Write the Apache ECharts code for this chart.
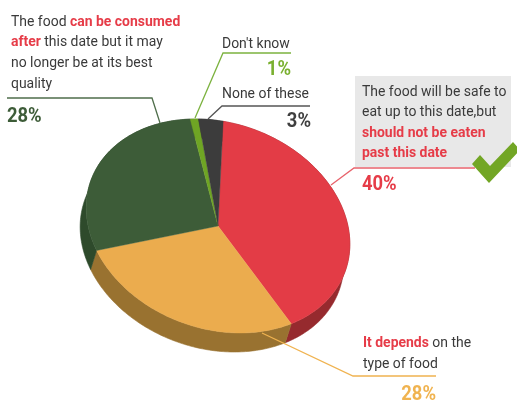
<!DOCTYPE html>
<html>
<head>
<meta charset="utf-8">
<style>html,body{margin:0;padding:0;background:#fff}#chart{width:517px;height:400px}</style>
<script src="https://cdn.jsdelivr.net/npm/echarts@6/dist/echarts.min.js"></script>
</head>
<body>
<div id="chart"></div>
<script>
// Survey shares, clockwise from the red slice
const categories = ['Safe up to this date', 'It depends', 'Can be consumed after', "Don't know", 'None of these'];
const values = [40, 28, 28, 1, 3];
const topColors = ['#e33c46', '#ebac4e', '#3d5c38', '#6fa524', '#3c3c3c'];
const sideColors = ['#962a2e', '#997230', '#2e4a2b', '#4f7a1a', '#2b2b2b'];

// Tilted-disc projection
const disc = { cx: 218, cy: 226, a: 135, b: 103, tilt: 19.4, start: -102.8, dx: -6, dy: 19 };
const total = values.reduce((s, v) => s + v, 0);
const rad = Math.PI / 180;

function rimPoint(deg, shifted) {
  const t = deg * rad, r = disc.tilt * rad;
  const p = disc.a * Math.cos(t), q = disc.b * Math.sin(t);
  return [
    disc.cx + p * Math.cos(r) - q * Math.sin(r) + (shifted ? disc.dx : 0),
    disc.cy + p * Math.sin(r) + q * Math.cos(r) + (shifted ? disc.dy : 0)
  ];
}
function sliceRange(index) {
  const before = values.slice(0, index).reduce((s, v) => s + v, 0);
  const from = disc.start + before / total * 360;
  return [from, from + values[index] / total * 360];
}
function arc(from, to, shifted) {
  const pts = [], n = Math.max(2, Math.ceil(to - from));
  for (let i = 0; i <= n; i++) pts.push(rimPoint(from + (to - from) * i / n, shifted));
  return pts;
}
function renderWall(params) {
  const [from, to] = sliceRange(params.dataIndex);
  const color = sideColors[params.dataIndex];
  return { type: 'polygon', shape: { points: arc(from, to, false).concat(arc(from, to, true).reverse()) },
    style: { fill: color, stroke: color, lineWidth: 0.6 } };
}
function renderTop(params) {
  const [from, to] = sliceRange(params.dataIndex);
  const color = topColors[params.dataIndex];
  return { type: 'polygon', shape: { points: [[disc.cx, disc.cy]].concat(arc(from, to, false)) },
    style: { fill: color, stroke: color, lineWidth: 0.4 } };
}

const FONT = 'Roboto, "Open Sans", sans-serif';
const SIZE = 15.5, NARROW = 0.9;
const INK = '#3a3a3a', RED = '#e63c48';
const rich = {
  n: { fontFamily: FONT, fontSize: SIZE, fill: INK },
  b: { fontFamily: FONT, fontSize: SIZE, fontWeight: 'bold', fill: RED }
};
function textLine(x, y, str) {
  return { type: 'text', z: 20, x, y: y + 1, scaleX: NARROW, silent: true,
    style: { text: str, rich, fontFamily: FONT, fontSize: SIZE, fill: INK, align: 'left', verticalAlign: 'middle' } };
}
function pct(i, x, y, color, align) {
  return { type: 'text', z: 20, silent: true, x, y: y + 2, scaleX: 0.92,
    style: { text: values[i] + '%', fontFamily: FONT, fontWeight: 'bold', fontSize: 20,
      fill: color, align: align, verticalAlign: 'middle' } };
}
function leader(points, color) {
  return { type: 'polyline', z: 10, silent: true, shape: { points },
    style: { fill: 'none', stroke: color, lineWidth: 1.3 } };
}

const graphics = [
  { type: 'rect', z: 1, silent: true, shape: { x: 355, y: 76, width: 156, height: 91 }, style: { fill: '#e8e8e8' } },
  leader([[7, 98], [152, 98], [160, 123]], '#4f6e4b'),
  leader([[291, 53], [223, 53], [195, 118]], '#7cb23f'),
  leader([[310, 106], [222, 106], [208, 119]], '#555555'),
  leader([[331, 185], [354, 168], [475, 168]], '#e8636c'),
  leader([[262, 333], [353, 376], [436, 376]], '#f0b350'),
  { type: 'polygon', z: 12, silent: true,
    shape: { points: [[472, 164], [480, 155], [490, 166], [513, 142], [520, 150], [489, 183]] },
    style: { fill: '#72a625' } },
  textLine(11, 21, 'The food {b|can be consumed}'),
  textLine(11, 41, '{b|after} this date but it may'),
  textLine(11, 62, 'no longer be at its best'),
  textLine(11, 83, 'quality'),
  textLine(222, 43, "Don't know"),
  textLine(222, 93, 'None of these'),
  textLine(362, 91, 'The food will be safe to'),
  textLine(362, 111, 'eat up to this date,but'),
  textLine(362, 132, '{b|should not be eaten}'),
  textLine(362, 152, '{b|past this date}'),
  textLine(363, 342, '{b|It depends} on the'),
  textLine(363, 363, 'type of food'),
  pct(2, 7, 115, '#3d5c38', 'left'),
  pct(3, 291, 68, '#7ab030', 'right'),
  pct(4, 311, 120, '#3f3f3f', 'right'),
  pct(0, 362, 183, RED, 'left'),
  pct(1, 436, 393, '#f0b350', 'right')
];

const chart = echarts.init(document.getElementById('chart'), null, { renderer: 'canvas' });
chart.setOption({
  animation: false,
  backgroundColor: '#ffffff',
  graphic: graphics,
  series: [
    { type: 'custom', name: 'wall', coordinateSystem: 'none', z: 2, silent: true, renderItem: renderWall,
      data: values.map((v, i) => ({ name: categories[i], value: v })) },
    { type: 'custom', name: 'top', coordinateSystem: 'none', z: 3, silent: true, renderItem: renderTop,
      data: values.map((v, i) => ({ name: categories[i], value: v })) }
  ]
});
</script>
</body>
</html>
